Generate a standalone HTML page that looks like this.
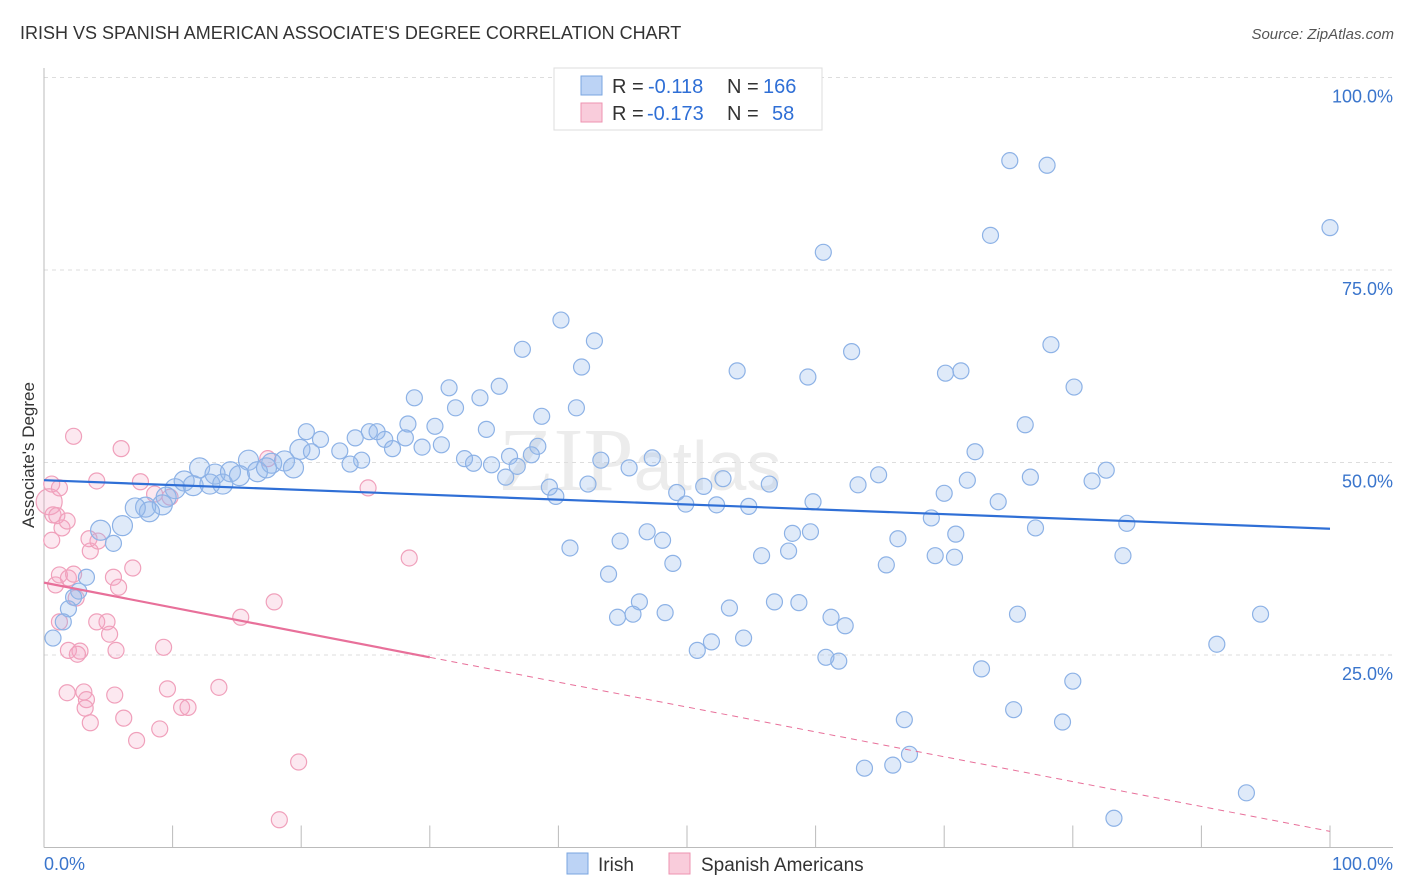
<!DOCTYPE html>
<html><head><meta charset="utf-8">
<style>
body{margin:0;background:#fff;font-family:"Liberation Sans",sans-serif;}
#wrap{position:relative;width:1406px;height:892px;overflow:hidden;}
svg{position:absolute;left:0;top:0;}
</style></head><body>
<div id="wrap">
<svg id="chart" width="1406" height="892">
  <text x="20" y="39" font-size="18" fill="#333">IRISH VS SPANISH AMERICAN ASSOCIATE'S DEGREE CORRELATION CHART</text>
  <text x="1394" y="39" font-size="15" fill="#555" font-style="italic" text-anchor="end">Source: ZipAtlas.com</text>
  <text x="34" y="455" font-size="17" fill="#333" text-anchor="middle" transform="rotate(-90 34 455)">Associate's Degree</text>
  <text x="640" y="490" font-size="90" fill="#000" opacity="0.07" font-family="Liberation Serif" text-anchor="middle">ZIP<tspan font-family="Liberation Sans" font-size="70">atlas</tspan></text>
  <g id="grid"></g><g id="marks"></g>
  <g>
    <rect x="554" y="68" width="268" height="62" fill="#fff" stroke="#ddd"/>
    <rect x="581" y="76" width="21" height="19" fill="#bcd3f5" stroke="#7aa6e0"/>
    <rect x="581" y="103" width="21" height="19" fill="#f9ccdb" stroke="#ee93b0"/>
    <text x="612" y="93" font-size="20" fill="#333">R =</text>
    <text x="648" y="93" font-size="20" fill="#2f6fd6">-0.118</text>
    <text x="727" y="93" font-size="20" fill="#333">N =</text>
    <text x="763" y="93" font-size="20" fill="#2f6fd6">166</text>
    <text x="612" y="120" font-size="20" fill="#333">R =</text>
    <text x="647" y="120" font-size="20" fill="#2f6fd6">-0.173</text>
    <text x="727" y="120" font-size="20" fill="#333">N =</text>
    <text x="772" y="120" font-size="20" fill="#2f6fd6">58</text>
  </g>
  <g>
    <rect x="567" y="853" width="21" height="21" fill="#bcd3f5" stroke="#7aa6e0"/>
    <text x="598" y="871" font-size="19" fill="#333">Irish</text>
    <rect x="669" y="853" width="21" height="21" fill="#f9ccdb" stroke="#ee93b0"/>
    <text x="701" y="871" font-size="19" fill="#333">Spanish Americans</text>
  </g>
</svg>
</div>
<script>
const yTicks=[25,50,75,100];
const yTickLabels=["25.0%","50.0%","75.0%","100.0%"];
const xTicks=[0,10,20,30,40,50,60,70,80,90,100];
const irishX=[75.1,78.0,100,73.6,60.6,40.2,42.8,37.2,62.8,78.3,41.8,53.9,59.4,70.1,71.3,80.1,35.4,31.5,28.8,33.9,32.0,41.4,38.7,30.4,34.4,20.4,25.3,25.9,28.3,76.3,21.5,24.2,26.5,28.1,38.4,19.9,20.8,23.0,27.1,29.4,30.9,72.4,15.9,17.7,18.7,24.7,23.8,32.7,33.4,34.8,36.2,37.9,36.8,43.3,47.3,45.5,35.9,12.1,13.3,14.5,15.2,16.6,17.3,19.4,64.9,71.8,76.7,82.6,81.5,10.9,11.6,10.2,12.9,13.9,39.3,42.3,52.8,56.4,63.3,39.8,49.2,51.3,70.0,74.2,9.5,9.2,7.9,8.2,7.1,49.9,52.3,54.8,59.8,69.0,84.2,4.4,6.1,5.4,77.1,46.9,44.8,48.1,70.9,66.4,40.9,55.8,57.9,59.6,58.2,83.9,69.3,70.8,65.5,48.9,43.9,3.3,2.7,2.3,1.9,1.5,0.7,46.3,44.6,45.8,48.3,53.3,56.8,58.7,61.2,62.3,75.7,94.6,51.9,50.8,54.4,91.2,60.8,61.8,72.9,80.0,66.9,75.4,79.2,67.3,66.0,63.8,93.5,83.2];
const irishY=[89.2,88.6,80.5,79.5,77.3,68.5,65.8,64.7,64.4,65.3,62.4,61.9,61.1,61.6,61.9,59.8,59.9,59.7,58.4,58.4,57.1,57.1,56.0,54.7,54.3,54.0,54.0,54.0,55.0,54.9,53.0,53.2,53.0,53.2,52.1,51.7,51.4,51.5,51.8,52.0,52.3,51.4,50.3,49.9,50.2,50.3,49.8,50.5,49.9,49.7,50.8,51.0,49.5,50.3,50.6,49.3,48.1,49.3,48.5,48.8,48.3,48.8,49.3,49.3,48.4,47.7,48.1,49.0,47.6,47.6,47.0,46.6,47.2,47.2,46.8,47.2,47.9,47.2,47.1,45.6,46.1,46.9,46.0,44.9,45.5,44.5,44.2,43.6,44.1,44.6,44.5,44.3,44.9,42.8,42.1,41.2,41.8,39.5,41.5,41.0,39.8,39.9,40.7,40.1,38.9,37.9,38.5,41.0,40.8,37.9,37.9,37.7,36.7,36.9,35.5,35.1,33.3,32.5,31.0,29.3,27.2,31.9,29.9,30.3,30.5,31.1,31.9,31.8,29.9,28.8,30.3,30.3,26.7,25.6,27.2,26.4,24.7,24.2,23.2,21.6,16.6,17.9,16.3,12.1,10.7,10.3,7.1,3.8];
const spanX=[0.4,0.6,0.6,0.7,1.0,1.4,1.8,2.3,4.1,6.0,7.5,0.9,1.2,1.9,2.3,3.6,3.5,4.2,5.8,5.4,6.9,1.9,2.8,2.6,4.1,4.9,5.1,5.6,9.3,1.8,3.1,3.3,3.2,5.5,3.6,6.2,7.2,9.0,9.6,10.7,11.2,13.6,15.3,17.9,19.8,18.3,25.2,28.4,17.4,8.6,9.8,1.2,2.5,1.2];
const spanY=[44.9,47.2,39.9,43.2,43.1,41.5,42.4,53.4,47.6,51.8,47.5,34.1,35.4,35.0,35.5,38.5,40.1,39.8,33.8,35.1,36.3,25.6,25.5,25.1,29.3,29.3,27.7,25.6,26.0,20.1,20.2,19.2,18.1,19.8,16.2,16.8,13.9,15.4,20.6,18.2,18.2,20.8,29.9,31.9,11.1,3.6,46.7,37.6,50.5,45.9,45.5,29.3,32.4,46.7];
const irishTrend=[47.7,41.4];
const spanTrend=[34.4,24.7,2.1];

const NS="http://www.w3.org/2000/svg";
const X0=44,X1=1330,Y0=847.5,Y100=77.5;
const sx=v=>X0+(X1-X0)*v/100;
const sy=v=>Y0-(Y0-Y100)*v/100;
function mk(tag,attrs,parent){const e=document.createElementNS(NS,tag);for(const k in attrs)e.setAttribute(k,attrs[k]);parent.appendChild(e);return e;}
const grid=document.getElementById('grid'),marks=document.getElementById('marks');
yTicks.forEach((t,i)=>{
  const l=mk('line',{x1:X0,x2:1393,y1:sy(t),y2:sy(t),stroke:'#ddd','stroke-dasharray':'4,4'},grid);
  
  
  const tx=mk('text',{x:1393,y:sy(t)+25,'font-size':18,fill:'#3a75cc','text-anchor':'end'},grid);
  tx.textContent=yTickLabels[i];
  
  
});
const ax=mk('line',{x1:X0,x2:X0,y1:68,y2:Y0,stroke:'#bbb'},grid);


const bx=mk('line',{x1:X0,x2:1393,y1:Y0,y2:Y0,stroke:'#bbb'},grid);


xTicks.forEach(t=>{
  const l=mk('line',{x1:sx(t),x2:sx(t),y1:Y0-22,y2:Y0,stroke:'#bbb'},grid);
  
  
});
const xl0=mk('text',{x:44,y:870,'font-size':18,fill:'#3a75cc'},grid);xl0.textContent='0.0%';


const xl1=mk('text',{x:1393,y:870,'font-size':18,fill:'#3a75cc','text-anchor':'end'},grid);xl1.textContent='100.0%';



spanX.forEach((v,i)=>{
  const c=mk('circle',{cx:sx(v),cy:sy(spanY[i]),r:i===0?13:8,fill:'rgba(245,165,195,0.25)',stroke:'#f0a0bb','stroke-width':1.2},marks);
  
  
});
irishX.forEach((v,i)=>{
  const big=v<20&&irishY[i]>40;
  const c=mk('circle',{cx:sx(v),cy:sy(irishY[i]),r:big?10:8,fill:'rgba(150,185,235,0.3)',stroke:'#8db2e6','stroke-width':1.2},marks);
  
  
});
const tl=mk('line',{x1:sx(0),y1:sy(irishTrend[0]),x2:sx(100),y2:sy(irishTrend[1]),stroke:'#2f6fd6','stroke-width':2.2},marks);


const pl=mk('line',{x1:sx(0),y1:sy(spanTrend[0]),x2:sx(30),y2:sy(spanTrend[1]),stroke:'#e8709a','stroke-width':2.2},marks);


const pd=mk('line',{x1:sx(30),y1:sy(spanTrend[1]),x2:sx(100),y2:sy(spanTrend[2]),stroke:'#e8709a','stroke-width':1,'stroke-dasharray':'6,5'},marks);


</script>
</body></html>
